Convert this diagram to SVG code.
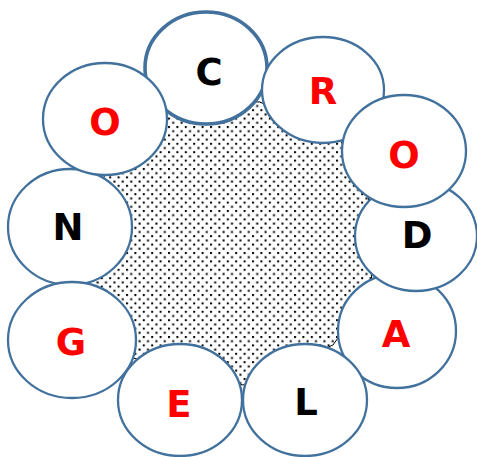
<svg xmlns="http://www.w3.org/2000/svg" width="477" height="457" viewBox="0 0 477 457">
<style>
.c{fill:#fff;stroke:#41719C;stroke-width:2.3}
.thick{stroke-width:3.6}
.t{font-family:"DejaVu Sans",Verdana,sans-serif;font-weight:bold;font-size:37px;text-anchor:middle}
.r{fill:#FF0000}
.k{fill:#000}
</style>
<defs>
<pattern id="dots" width="8.4" height="8.4" patternUnits="userSpaceOnUse">
<rect width="8.4" height="8.4" fill="#fff"/>
<rect x="0" y="0" width="2" height="2" fill="#000"/>
<rect x="4.2" y="4.2" width="2" height="2" fill="#000"/>
</pattern>
</defs>
<g id="background">
<polygon points="165,100 260,102 340,140 368,190 372,290 333,345 243,385 133,358 84,283 105,172" fill="url(#dots)" stroke="#000" stroke-width="1"/>
</g>
<g id="node-C"><ellipse class="c thick" cx="206" cy="68" rx="61" ry="56"/><text class="t k" x="209" y="85">C</text></g>
<g id="node-N"><ellipse class="c" cx="70" cy="227" rx="62" ry="58"/><text class="t k" x="68" y="240">N</text></g>
<g id="node-G"><ellipse class="c" cx="72" cy="340" rx="64" ry="58"/><text class="t r" x="71" y="355">G</text></g>
<g id="node-A"><ellipse class="c" cx="397" cy="331" rx="59" ry="57"/><text class="t r" x="396" y="347">A</text></g>
<g id="node-D"><ellipse class="c" cx="416" cy="236" rx="61" ry="55"/><text class="t k" x="417" y="248">D</text></g>
<g id="node-R"><ellipse class="c" cx="323" cy="90" rx="61" ry="53"/><text class="t r" x="323" y="104">R</text></g>
<g id="node-O-right"><ellipse class="c" cx="404" cy="151" rx="62" ry="56"/><text class="t r" x="404" y="168">O</text></g>
<g id="node-O-left"><ellipse class="c" cx="105" cy="119" rx="62" ry="56"/><text class="t r" x="105" y="135">O</text></g>
<g id="node-E"><ellipse class="c" cx="180" cy="400" rx="62" ry="56"/><text class="t r" x="179" y="417">E</text></g>
<g id="node-L"><ellipse class="c" cx="305" cy="400" rx="62" ry="56"/><text class="t k" x="306" y="415">L</text></g>
</svg>
